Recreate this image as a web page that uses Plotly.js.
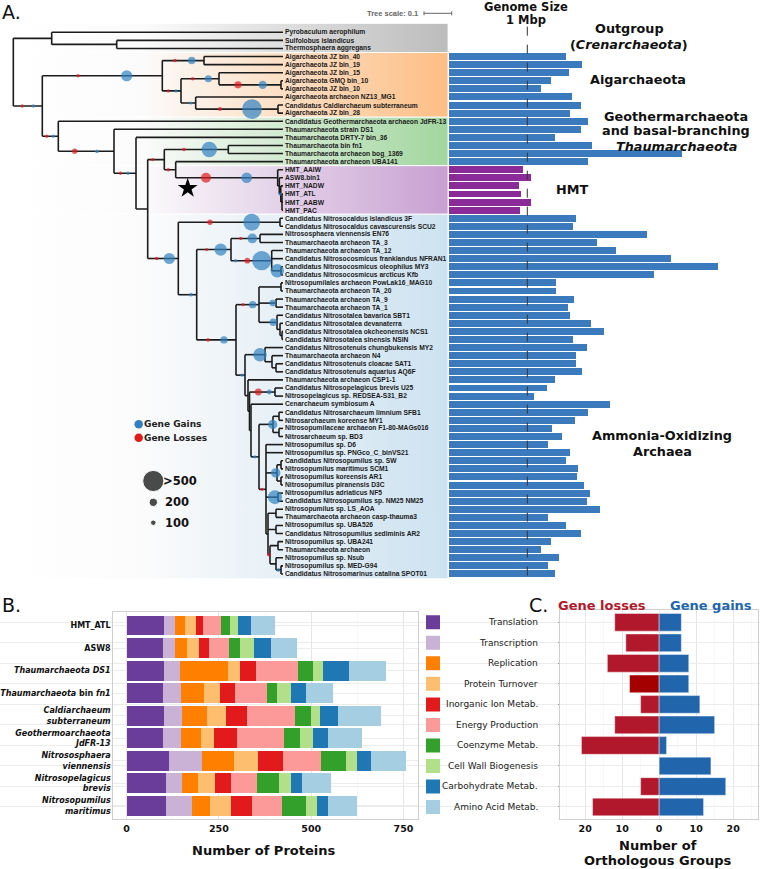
<!DOCTYPE html>
<html>
<head>
<meta charset="utf-8">
<script src="https://cdn.plot.ly/plotly-3.0.1.min.js"></script>
<style>html,body{margin:0;padding:0;background:#fff;}#chart{width:760px;height:869px;}</style>
</head>
<body>
<div id="chart"></div>
<script>
// ================= Panel A data =================
const taxa = [
 'Pyrobaculum aerophilum','Sulfolobus islandicus','Thermosphaera aggregans',
 'Aigarchaeota JZ bin_40','Aigarchaeota JZ bin_19','Aigarchaeota JZ bin_15','Aigarchaeota GMQ bin_10','Aigarchaeota JZ bin_10','Aigarchaeota archaeon NZ13_MG1','Candidatus Caldiarchaeum subterraneum','Aigarchaeota JZ bin_28',
 'Candidatus Geothermarchaeota archaeon JdFR-13','Thaumarchaeota strain DS1','Thaumarchaeota DRTY-7 bin_36','Thaumarchaeota bin fn1','Thaumarchaeota archaeon bog_1369','Thaumarchaeota archaeon UBA141',
 'HMT_AAIW','ASW8.bin1','HMT_NADW','HMT_ATL','HMT_AABW','HMT_PAC',
 'Candidatus Nitrosocaldus islandicus 3F','Candidatus Nitrosocaldus cavascurensis SCU2','Nitrososphaera viennensis EN76','Thaumarchaeota archaeon TA_3','Thaumarchaeota archaeon TA_12','Candidatus Nitrosocosmicus franklandus NFRAN1','Candidatus Nitrosocosmicus oleophilus MY3','Candidatus Nitrosocosmicus arcticus Kfb','Nitrosopumilales archaeon PowLak16_MAG10','Thaumarchaeota archaeon TA_20','Thaumarchaeota archaeon TA_9','Thaumarchaeota archaeon TA_1','Candidatus Nitrosotalea bavarica SBT1','Candidatus Nitrosotalea devanaterra','Candidatus Nitrosotalea okcheonensis NCS1','Candidatus Nitrosotalea sinensis NSIN','Candidatus Nitrosotenuis chungbukensis MY2','Thaumarchaeota archaeon N4','Candidatus Nitrosotenuis cloacae SAT1','Candidatus Nitrosotenuis aquarius AQ6F','Thaumarchaeota archaeon CSP1-1','Candidatus Nitrosopelagicus brevis U25','Nitrosopelagicus sp. REDSEA-S31_B2','Cenarchaeum symbiosum A','Candidatus Nitrosarchaeum limnium SFB1',
 'Nitrosarchaeum koreense MY1','Nitrosopumilaceae archaeon F1-80-MAGs016','Nitrosarchaeum sp. BD3','Nitrosopumilus sp. D6','Nitrosopumilus sp. PNGco_C_binVS21','Candidatus Nitrosopumilus sp. SW','Nitrosopumilus maritimus SCM1','Nitrosopumilus koreensis AR1','Nitrosopumilus piranensis D3C','Nitrosopumilus adriaticus NF5','Candidatus Nitrosopumilus sp. NM25 NM25','Nitrosopumilus sp. LS_AOA','Thaumarchaeota archaeon casp-thauma3','Nitrosopumilus sp. UBA526','Candidatus Nitrosopumilus sediminis AR2','Nitrosopumilus sp. UBA241','Thaumarchaeota archaeon','Nitrosopumilus sp. Nsub','Nitrosopumilus sp. MED-G94','Candidatus Nitrosomarinus catalina SPOT01'
];
const genomeSizeMbp = [
 null,null,null,
 1.50,1.70,1.53,1.30,1.17,1.57,1.68,1.54,
 1.78,1.68,1.36,1.83,2.98,1.78,
 0.95,1.05,0.89,0.92,1.05,0.91,
 1.62,1.58,2.53,1.89,2.13,2.84,3.44,2.62,1.37,1.37,1.59,1.52,1.54,1.81,1.98,1.58,1.76,1.62,1.62,1.70,1.36,1.25,1.08,2.05,1.78,
 1.61,1.32,1.44,1.26,1.55,1.50,1.65,1.64,1.72,1.80,1.76,1.93,1.26,1.50,1.69,1.30,1.17,1.40,1.26,1.36
];
const cladeNames = ['Outgroup','Aigarchaeota','Geothermarchaeota','HMT','AOA'];
const cladeFirstRow = [0,3,11,17,23];
const cladeLastRow  = [2,10,16,22,67];
const cladeColor = ['#bcbcbc','#fdbe84','#a2d69f','#c8a0d2','#cde2f0'];
const barColorOfClade = {'HMT':'#8b2b9a'};
const defaultBarColor = '#3b7bbd';

// tree: N(id, depth, ...children); a number child is a leaf row index
function N(id, x, ...kids){ return {id:id, x:x, kids:kids}; }
const lowerAOA = N('c18',259,
  N('c19',273, N('c19a',279,47,48), N('c19b',279,49,50)),
  N('c20',266, 51, 52,
    N('c21',277, N('c21a',281,53,54), N('c21b',281,55,56)),
    N('c22',278, 57, 58),
    N('c23',268,
      N('c24',276,59,60),
      N('c25',276,61,62),
      N('c26',270, N('c26a',278,63,64), N('c26b',276,65, N('c26c',281,66,67))))));
const c9Clade = N('c9',245,
  N('c13',265,39, N('c13b',272,40, N('c13c',276,41,42))),
  N('c14',248,43,
    N('c15',249.5,
      N('c17',275,44,45),
      N('c16',251,46, lowerAOA))));
const aoaClade = N('aoa',178.3,
  N('c1',280,23,24),
  N('c2',196.7,
    N('c3',231, N('c5',260,25,26), N('c6',271.7,27,28, N('c7',281,29,30))),
    N('c4',236,
      N('c8',259, N('c10',281,31,32), N('c11',276,33,34), N('c12',277,35, N('c12b',280,36, N('c12c',282,37,38)))),
      c9Clade)));
const hmtClade = N('hmt',277.7,17, N('h2',279.3,18, N('h3',280.8,19, N('h4',282,20,21,22))));
const thmClade = N('thm',58.3,11,
  N('t1',114,12,
    N('t2',136,13,
      N('t3',147.7,
        N('t4',164.3, N('t5',228.3,14,15), N('t6',175.7,16,hmtClade)),
        aoaClade))));
const aigClade = N('aig',162.3,
  N('a1',204,3,4),
  N('a2',181, N('a3',219,5, N('a4',281,6,7)), N('a5',195.7,8, N('a6',278,9,10))));
const tree = N('root',13.3, N('out',51.7,0, N('cren',116.7,1,2)), N('in',42.3, aigClade, thmClade));
const TIP_DEPTH = 283;

// gene gain / loss events: [branch node, depth along branch, gene count, type]
const geneEvents = [
 ['in',22.3,25,'loss'],['in',33.3,25,'gain'],
 ['aig',78,35,'loss'],['aig',126.7,300,'gain'],
 ['thm',46.7,25,'loss'],['thm',53.3,25,'gain'],
 ['t1',74.7,100,'loss'],['t1',97,40,'gain'],
 ['t2',120.5,25,'loss'],['t2',128,25,'gain'],
 ['t4',152.7,30,'loss'],
 ['t5',184,35,'loss'],['t5',209.3,450,'gain'],
 ['t6',168.3,25,'loss'],
 ['hmt',206,260,'loss'],['hmt',246.7,280,'gain'],
 ['h3',280,20,'gain'],
 ['a1',175,30,'loss'],['a1',191.7,170,'gain'],
 ['a2',168.3,20,'loss'],['a2',176,20,'gain'],
 ['a3',192.7,35,'loss'],['a3',208.3,160,'gain'],
 ['a4',238,160,'loss'],['a4',262.7,200,'gain'],
 ['a5',191,20,'gain'],
 ['a6',220,50,'loss'],['a6',252,600,'gain'],
 ['aoa',156.7,35,'loss'],['aoa',169.3,300,'gain'],
 ['c1',210,100,'loss'],['c1',251.7,500,'gain'],
 ['c2',191,40,'gain'],
 ['c3',206.7,25,'loss'],['c3',220.7,340,'gain'],
 ['c5',240.7,25,'loss'],['c5',252.3,250,'gain'],
 ['c6',235.5,30,'gain'],['c6',247.3,110,'loss'],['c6',261.7,580,'gain'],
 ['c7',277.3,380,'gain'],
 ['c4',208,35,'loss'],['c4',224,170,'gain'],
 ['c8',243,25,'loss'],['c8',252.7,170,'gain'],
 ['c11',272.7,140,'gain'],['c12',273.3,170,'gain'],
 ['c9',242,30,'gain'],['c13',260,380,'gain'],
 ['c17',258.3,150,'loss'],['c17',269.3,80,'gain'],
 ['c18',255,25,'gain'],['c20',262,25,'loss'],
 ['c19',272.7,230,'gain'],['c21',275.7,240,'gain'],['c22',275,400,'gain'],
 ['c26',269,40,'loss'],['c26c',278.5,40,'gain']
];
const sizeLegendCounts = [650,200,100];
const sizeLegendLabels = ['>500','200','100'];

// ================= Panel B data =================
const genomesB = ['HMT_ATL','ASW8','Thaumarchaeota DS1','Thaumarchaeota bin fn1','Caldiarchaeum subterraneum','Geothermoarchaeota JdFR-13','Nitrososphaera viennensis','Nitrosopelagicus brevis','Nitrosopumilus maritimus'];
const genomesBTick = [
 '<b>HMT_ATL</b>','<b>ASW8</b>','<b><i>Thaumarchaeota DS1</i></b>','<b><i>Thaumarchaeota</i> bin <i>fn1</i></b>',
 '<b><i>Caldiarchaeum</i></b><br><b><i>subterraneum</i></b>','<b><i>Geothermoarchaeota</i></b><br><b><i>JdFR-13</i></b>',
 '<b><i>Nitrososphaera</i></b><br><b><i>viennensis</i></b>','<b><i>Nitrosopelagicus</i></b><br><b><i>brevis</i></b>',
 '<b><i>Nitrosopumilus</i></b><br><b><i>maritimus</i></b>'];
const categories = ['Translation','Transcription','Replication','Protein Turnover','Inorganic Ion Metab.','Energy Production','Coenzyme Metab.','Cell Wall Biogenesis','Carbohydrate Metab.','Amino Acid Metab.'];
const categoryColors = ['#6a3d9a','#cab2d6','#ff7f00','#fdbf6f','#e31a1c','#fb9a99','#33a02c','#b2df8a','#1f78b4','#a6cee3'];
const translation      = [101, 99,101, 98,102, 99,114,108,108];
const transcription    = [ 29, 31, 43, 50, 48, 47, 90, 43, 68];
const replication      = [ 28, 33,130, 62, 67, 55, 86, 42, 51];
const proteinTurnover  = [ 30, 34, 33, 44, 52, 37, 67, 47, 55];
const inorganicIon     = [ 19, 27, 43, 40, 57, 61, 67, 43, 58];
const energyProduction = [ 48, 53,113, 86,130,127,103, 71, 81];
const coenzymeMetab    = [ 25, 30, 43, 28, 43, 43, 67, 60, 64];
const cellWall         = [ 23, 39, 25, 38, 26, 35, 29, 32, 31];
const carbohydrate     = [ 34, 45, 71, 40, 48, 41, 38, 30, 29];
const aminoAcid        = [ 65, 71,100, 73,117, 92, 95, 77, 80];
const proteinsByCategory = [translation,transcription,replication,proteinTurnover,inorganicIon,energyProduction,coenzymeMetab,cellWall,carbohydrate,aminoAcid];

// ================= Panel C data =================
const geneLosses = [12, 9, 14, 8, 5, 12, 21, 0, 5, 18];
const geneGains  = [ 6, 6,  8, 8,11, 15,  2,14,18, 12];
const lossColors = ['#b2182b','#b2182b','#b2182b','#a50000','#b2182b','#b2182b','#b2182b','#b2182b','#b2182b','#b2182b'];

// ================= build =================
const W = 760, H = 869;
const PX = v => v / W, PY = v => 1 - v / H;
const ROW_TOP_PX = 23.4, ROW_BOT_PX = 578.8, ROW_MIN = -1.1, ROW_MAX = 67.6;
const rowOfPx = py => ROW_MIN + (py - ROW_TOP_PX) * (ROW_MAX - ROW_MIN) / (ROW_BOT_PX - ROW_TOP_PX);

const traces = [];
const annotations = [];
const shapes = [];

// clade background bands (gradient)
cladeNames.forEach((c, i) => {
  const top = i === 0 ? ROW_MIN : cladeFirstRow[i] - 0.5;
  const bot = i === cladeNames.length - 1 ? ROW_MAX : cladeLastRow[i] + 0.5;
  traces.push({type:'scatter', mode:'lines', xaxis:'x', yaxis:'y2', hoverinfo:'skip',
    x:[12,448,448,12,12], y:[top,top,bot,bot,top], fill:'toself',
    fillcolor: cladeColor[i],
    fillgradient:{type:'horizontal', colorscale:[[0,'#ffffff'],[0.3,'#fbfbfb'],[1,cladeColor[i]]]},
    line:{width:1, color:'rgba(255,255,255,0.85)'}});
});

// tree lines
const segX = [], segY = [];
const nodeY = {};
function seg(x0,y0,x1,y1){ segX.push(x0,x1,null); segY.push(y0,y1,null); }
function place(n){
  if (typeof n === 'number') return n;
  const ys = n.kids.map(place);
  const y = (ys[0] + ys[ys.length-1]) / 2;
  nodeY[n.id] = y;
  seg(n.x, ys[0], n.x, ys[ys.length-1]);
  n.kids.forEach((k,i) => { seg(n.x, ys[i], typeof k === 'number' ? TIP_DEPTH : k.x, ys[i]); });
  return y;
}
place(tree);
traces.push({type:'scatter', mode:'lines', xaxis:'x', yaxis:'y2', hoverinfo:'skip',
  x:segX, y:segY, line:{color:'#1c1c1c', width:1.6}, connectgaps:false});

// gene events
const sz = c => 2.6 + c / 35;
['loss','gain'].forEach(t => {
  const ev = geneEvents.filter(e => e[3] === t);
  traces.push({type:'scatter', mode:'markers', xaxis:'x', yaxis:'y2', hoverinfo:'skip',
    x: ev.map(e => e[1]), y: ev.map(e => nodeY[e[0]]),
    marker:{size: ev.map(e => sz(e[2])), color: t === 'gain' ? '#3181c2' : '#e31a1c', line:{width:0}}});
});
// star marking HMT branch
traces.push({type:'scatter', mode:'markers', xaxis:'x', yaxis:'y2', hoverinfo:'skip',
  x:[187.7], y:[nodeY['hmt'] + 1.3], marker:{symbol:'star', size:15, color:'#000'}});

// panel A legend
traces.push({type:'scatter', mode:'markers', xaxis:'x', yaxis:'y2', hoverinfo:'skip',
  x:[138.7,138.7], y:[rowOfPx(424.3), rowOfPx(437.7)], marker:{size:8.5, color:['#3181c2','#e31a1c']}});
const sizeLegPx = [481, 502.3, 522.7];
traces.push({type:'scatter', mode:'markers', xaxis:'x', yaxis:'y2', hoverinfo:'skip',
  x: sizeLegendCounts.map(() => 153.3), y: sizeLegPx.map(rowOfPx),
  marker:{size: sizeLegendCounts.map(sz), color:'#000'}});
annotations.push({xref:'paper', yref:'paper', x:PX(143), y:PY(424.3), xanchor:'left', yanchor:'middle', showarrow:false,
  text:'<b>Gene Gains</b>', font:{family:'DejaVu Sans', size:9, color:'#222'}, borderpad:0});
annotations.push({xref:'paper', yref:'paper', x:PX(143), y:PY(437.7), xanchor:'left', yanchor:'middle', showarrow:false,
  text:'<b>Gene Losses</b>', font:{family:'DejaVu Sans', size:9, color:'#222'}, borderpad:0});
sizeLegendLabels.forEach((s,i) => annotations.push({xref:'paper', yref:'paper', x:PX(i===0?161:163), y:PY(sizeLegPx[i]),
  xanchor:'left', yanchor:'middle', showarrow:false, text:'<b>'+s+'</b>', font:{family:'DejaVu Sans', size:11.5, color:'#111'}}));

// genome size bars
const cladeOfRow = taxa.map((_, r) => cladeNames[cladeFirstRow.filter(f => f <= r).length - 1]);
traces.push({type:'bar', orientation:'h', xaxis:'x2', yaxis:'y2', hoverinfo:'skip',
  x: genomeSizeMbp, y: taxa.map((_, r) => r), width:0.86,
  marker:{color: cladeOfRow.map(c => barColorOfClade[c] || defaultBarColor), line:{width:0}}});
shapes.push({type:'line', xref:'x2', yref:'y2', x0:1, x1:1, y0:-0.7, y1:67.5, line:{color:'#333', width:1, dash:'dash'}});

// taxon labels
taxa.forEach((t, r) => annotations.push({xref:'x', yref:'y2', x:284, y:r, xanchor:'left', yanchor:'middle', showarrow:false,
  text:'<b>'+t+'</b>', font:{family:'Liberation Sans, Arial, sans-serif', size:6.7, color:'#1a1a1a'}, borderpad:0}));

// panel titles and text
const headFont = (s) => ({family:'DejaVu Sans, sans-serif', size:s, color:'#111'});
[
 ['A.',1,12,19,'left'],
 ['<b>Genome Size</b>',526,7,11.5,'center'],
 ['<b>1 Mbp</b>',526,20,11.5,'center'],
 ['<b>Outgroup</b>',629,28.5,12.8,'center'],
 ['<b>(<i>Crenarchaeota</i>)</b>',629,44.5,12.8,'center'],
 ['<b>Aigarchaeota</b>',638,80,12.8,'center'],
 ['<b>Geothermarchaeota</b>',676,116,12.8,'center'],
 ['<b>and basal-branching</b>',676,131,12.8,'center'],
 ['<b><i>Thaumarchaeota</i></b>',676,146,12.8,'center'],
 ['<b>HMT</b>',572,189,12.8,'center'],
 ['<b>Ammonia-Oxidizing</b>',662,435,12.8,'center'],
 ['<b>Archaea</b>',662,451.7,12.8,'center'],
 ['B.',1,605,19,'left'],
 ['C.',528,605,19,'left'],
 ['<b>Gene losses</b>',602,605,13,'center'],
 ['<b>Gene gains</b>',711,605,13,'center'],
 ['<b>Number of Proteins</b>',263,850,13,'center'],
 ['<b>Number of</b>',658,845,13,'center'],
 ['<b>Orthologous Groups</b>',658,860.5,13,'center']
].forEach(a => {
  const f = headFont(a[3]);
  if (a[0].indexOf('Gene losses') >= 0) f.color = '#b2182b';
  if (a[0].indexOf('Gene gains') >= 0) f.color = '#2166ac';
  annotations.push({xref:'paper', yref:'paper', x:PX(a[1]), y:PY(a[2]), xanchor:a[4], yanchor:'middle',
    showarrow:false, text:a[0], font:f, borderpad:0});
});
annotations.push({xref:'paper', yref:'paper', x:PX(365), y:PY(13.3), xanchor:'left', yanchor:'middle', showarrow:false,
  text:'<b>Tree scale: 0.1</b>', font:{family:'Liberation Sans, Arial', size:7.5, color:'#666'}});
shapes.push({type:'line', xref:'paper', yref:'paper', x0:PX(424), x1:PX(451.7), y0:PY(13.3), y1:PY(13.3), line:{color:'#666', width:1}});
shapes.push({type:'line', xref:'paper', yref:'paper', x0:PX(424), x1:PX(424), y0:PY(11.3), y1:PY(15.3), line:{color:'#666', width:1}});
shapes.push({type:'line', xref:'paper', yref:'paper', x0:PX(451.7), x1:PX(451.7), y0:PY(11.3), y1:PY(15.3), line:{color:'#666', width:1}});

// panel B stacked bars
categories.forEach((c, i) => traces.push({type:'bar', orientation:'h', xaxis:'x3', yaxis:'y3', hoverinfo:'skip',
  name:c, x: proteinsByCategory[i], y: genomesB.map((_, j) => j), width:0.88,
  marker:{color: categoryColors[i], line:{width:0}}}));

// panel B legend (keys aligned with panel C rows)
traces.push({type:'scatter', mode:'markers', xaxis:'x', yaxis:'y4', hoverinfo:'skip',
  x: categories.map(() => 433), y: categories.map((_, i) => i),
  marker:{symbol:'square', size:14, color: categoryColors}});
categories.forEach((c, i) => annotations.push({xref:'paper', yref:'y4', x:PX(540), y:i, xanchor:'right', yanchor:'middle',
  showarrow:false, text:c, font:{family:'DejaVu Sans, sans-serif', size:9, color:'#222'}}));

// panel C diverging bars
traces.push({type:'bar', orientation:'h', xaxis:'x4', yaxis:'y4', hoverinfo:'skip',
  x: geneLosses.map(v => -v), y: categories.map((_, i) => i), width:0.86,
  marker:{color: lossColors, line:{width:0.6, color:'rgba(255,255,255,0.7)'}}});
traces.push({type:'bar', orientation:'h', xaxis:'x4', yaxis:'y4', hoverinfo:'skip',
  x: geneGains, y: categories.map((_, i) => i), width:0.86,
  marker:{color:'#2166ac', line:{width:0.6, color:'rgba(255,255,255,0.7)'}}});

const tickFont = {family:'DejaVu Sans, sans-serif', size:9.5, color:'#111'};
const hidden = {visible:false, showgrid:false, zeroline:false, fixedrange:true};
const layout = {
  width:W, height:H, margin:{l:0,r:0,t:0,b:0},
  paper_bgcolor:'#ffffff', plot_bgcolor:'rgba(0,0,0,0)',
  showlegend:false, barmode:'relative', bargap:0,
  xaxis: Object.assign({domain:[0,1], range:[0,W], anchor:'y2'}, hidden),
  yaxis2: Object.assign({domain:[PY(ROW_BOT_PX), PY(ROW_TOP_PX)], range:[ROW_MAX, ROW_MIN], anchor:'x'}, hidden),
  xaxis2: Object.assign({domain:[PX(449), 1], range:[0, (W-449)/78.3], anchor:'y2'}, hidden),
  xaxis3: {domain:[PX(113.3), PX(418.3)], range:[-36,790], anchor:'y3', tickvals:[0,250,500,750],
    ticktext:['<b>0</b>','<b>250</b>','<b>500</b>','<b>750</b>'], ticks:'', tickfont:tickFont,
    showgrid:true, gridcolor:'#e6e6e6', gridwidth:1, zeroline:false,
    minor:{tickvals:[125,375,625], showgrid:true, gridcolor:'#f3f3f3', gridwidth:0.6, ticks:''},
    showline:true, mirror:true, linecolor:'#cfcfcf', linewidth:1, fixedrange:true},
  yaxis3: {domain:[PY(819.3), PY(612)], range:[8.6,-0.6], anchor:'x3', tickvals:genomesB.map((_, j) => j),
    ticktext:genomesBTick, ticks:'', tickfont:{family:'DejaVu Sans, sans-serif', size:8, color:'#111'},
    showgrid:true, gridcolor:'#ececec', gridwidth:1, zeroline:false,
    showline:true, mirror:true, linecolor:'#cfcfcf', linewidth:1, fixedrange:true},
  xaxis4: {domain:[PX(560), PX(758.3)], range:[-26.8,26.8], anchor:'y4', tickvals:[-20,-10,0,10,20],
    ticktext:['<b>20</b>','<b>10</b>','<b>0</b>','<b>10</b>','<b>20</b>'], ticks:'', tickfont:tickFont,
    showgrid:true, gridcolor:'#e6e6e6', gridwidth:1, zeroline:false,
    minor:{tickvals:[-25,-15,-5,5,15,25], showgrid:true, gridcolor:'#f3f3f3', gridwidth:0.6, ticks:''},
    showline:true, mirror:true, linecolor:'#cfcfcf', linewidth:1, fixedrange:true},
  yaxis4: {domain:[PY(819.3), PY(610)], range:[9.6,-0.6], anchor:'x4', tickvals:categories.map((_, i) => i),
    showticklabels:false, ticks:'outside', ticklen:1.5, tickcolor:'#999',
    showgrid:true, gridcolor:'#ececec', gridwidth:1, zeroline:false,
    showline:true, mirror:true, linecolor:'#cfcfcf', linewidth:1, fixedrange:true},
  annotations: annotations,
  shapes: shapes
};
Plotly.newPlot('chart', traces, layout, {staticPlot:true, displayModeBar:false});
</script>
</body>
</html>
